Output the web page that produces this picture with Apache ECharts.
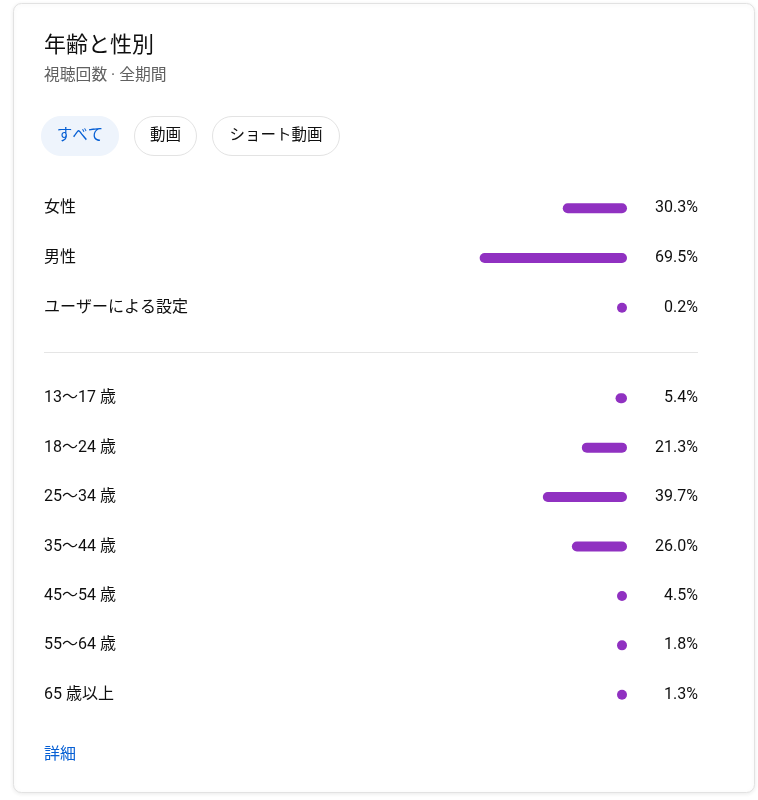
<!DOCTYPE html>
<html><head><meta charset="utf-8">
<script src="https://cdn.jsdelivr.net/npm/echarts@6/dist/echarts.min.js"></script>
<style>html,body{margin:0;padding:0;background:#fff}#c{width:758px;height:800px}</style>
</head><body><div id="c"></div>
<script>
const titleText = '年齢と性別';
const subtitleText = '視聴回数 · 全期間';
const chips = ['すべて', '動画', 'ショート動画'];
const genderCats = ['女性', '男性', 'ユーザーによる設定'];
const genderVals = [30.3, 69.5, 0.2];
const ageCats = ['13〜17 歳', '18〜24 歳', '25〜34 歳', '35〜44 歳', '45〜54 歳', '55〜64 歳', '65 歳以上'];
const ageVals = [5.4, 21.3, 39.7, 26.0, 4.5, 1.8, 1.3];
const linkText = '詳細';

const FONT = 'Roboto, "Noto Sans CJK JP", sans-serif';
const PURPLE = '#9031c1';
const chart = echarts.init(document.getElementById('c'), null, {renderer: 'canvas'});

const grids = [
  {left: 415, right: 131, top: 183.5, height: 149},
  {left: 415, right: 131, top: 373.5, height: 346}
];
function xAx(i){ return {gridIndex:i, type:'value', inverse:true, min:0, max:100, show:false}; }
function yLeft(i, cats){ return {gridIndex:i, type:'category', inverse:true, data:cats, position:'left',
  axisLine:{show:false, onZero:false}, axisTick:{show:false},
  axisLabel:{align:'left', margin:371, fontFamily:FONT, fontSize:16, color:'#0f0f0f'}}; }
function yRight(i, vals){ return {gridIndex:i, type:'category', inverse:true, data:vals.map(v=>v.toFixed(1)+'%'), position:'right',
  axisLine:{show:false, onZero:false}, axisTick:{show:false},
  axisLabel:{align:'right', margin:71, fontFamily:FONT, fontSize:16, color:'#0f0f0f'}}; }
function bar(i, vals){ return {type:'bar', xAxisIndex:i, yAxisIndex:i*2, data:vals, barWidth:10, barMinHeight:10,
  itemStyle:{color:PURPLE, borderRadius:5}, silent:true, animation:false}; }

let chipX = 41;
const chipWidths = [78, 63, 128];
const chipEls = [];
chips.forEach((t, i) => {
  const w = chipWidths[i];
  const sel = i === 0;
  chipEls.push({type:'rect', shape:{x:chipX+0.5, y:116.5, width:w-1, height:39, r:19.5},
    style:{fill: sel ? '#eef4fc' : '#fff', stroke: sel ? '#eef4fc' : '#e3e3e3', lineWidth:1}});
  chipEls.push({type:'text', style:{x:chipX + w/2, y:136, text:t, align:'center', verticalAlign:'middle',
    fontFamily:FONT, fontSize:15.5, fill: sel ? '#065fd4' : '#0f0f0f'}});
  chipX += w + 15;
});

chart.setOption({
  animation:false,
  backgroundColor:'#fff',
  title:{text:titleText, subtext:subtitleText, left:44, top:35.5, padding:0, itemGap:11,
    textStyle:{fontFamily:FONT, fontSize:22, fontWeight:'normal', color:'#0f0f0f'},
    subtextStyle:{fontFamily:FONT, fontSize:15.8, color:'#606060'}},
  graphic:[
    {type:'rect', z:-10, shape:{x:13.5, y:3.5, width:741, height:789, r:8},
      style:{fill:'#fff', stroke:'#e2e2e2', lineWidth:1, shadowBlur:4, shadowOffsetY:1, shadowColor:'rgba(0,0,0,0.08)'}},
    ...chipEls,
    {type:'line', shape:{x1:44, y1:352.5, x2:698, y2:352.5}, style:{stroke:'#e5e5e5', lineWidth:1}},
    {type:'text', style:{x:44, y:755, text:linkText, verticalAlign:'middle', fontFamily:FONT, fontSize:16, fill:'#065fd4'}}
  ],
  grid:grids,
  xAxis:[xAx(0), xAx(1)],
  yAxis:[yLeft(0, genderCats), yRight(0, genderVals), yLeft(1, ageCats), yRight(1, ageVals)],
  series:[bar(0, genderVals), bar(1, ageVals)]
});
</script></body></html>
